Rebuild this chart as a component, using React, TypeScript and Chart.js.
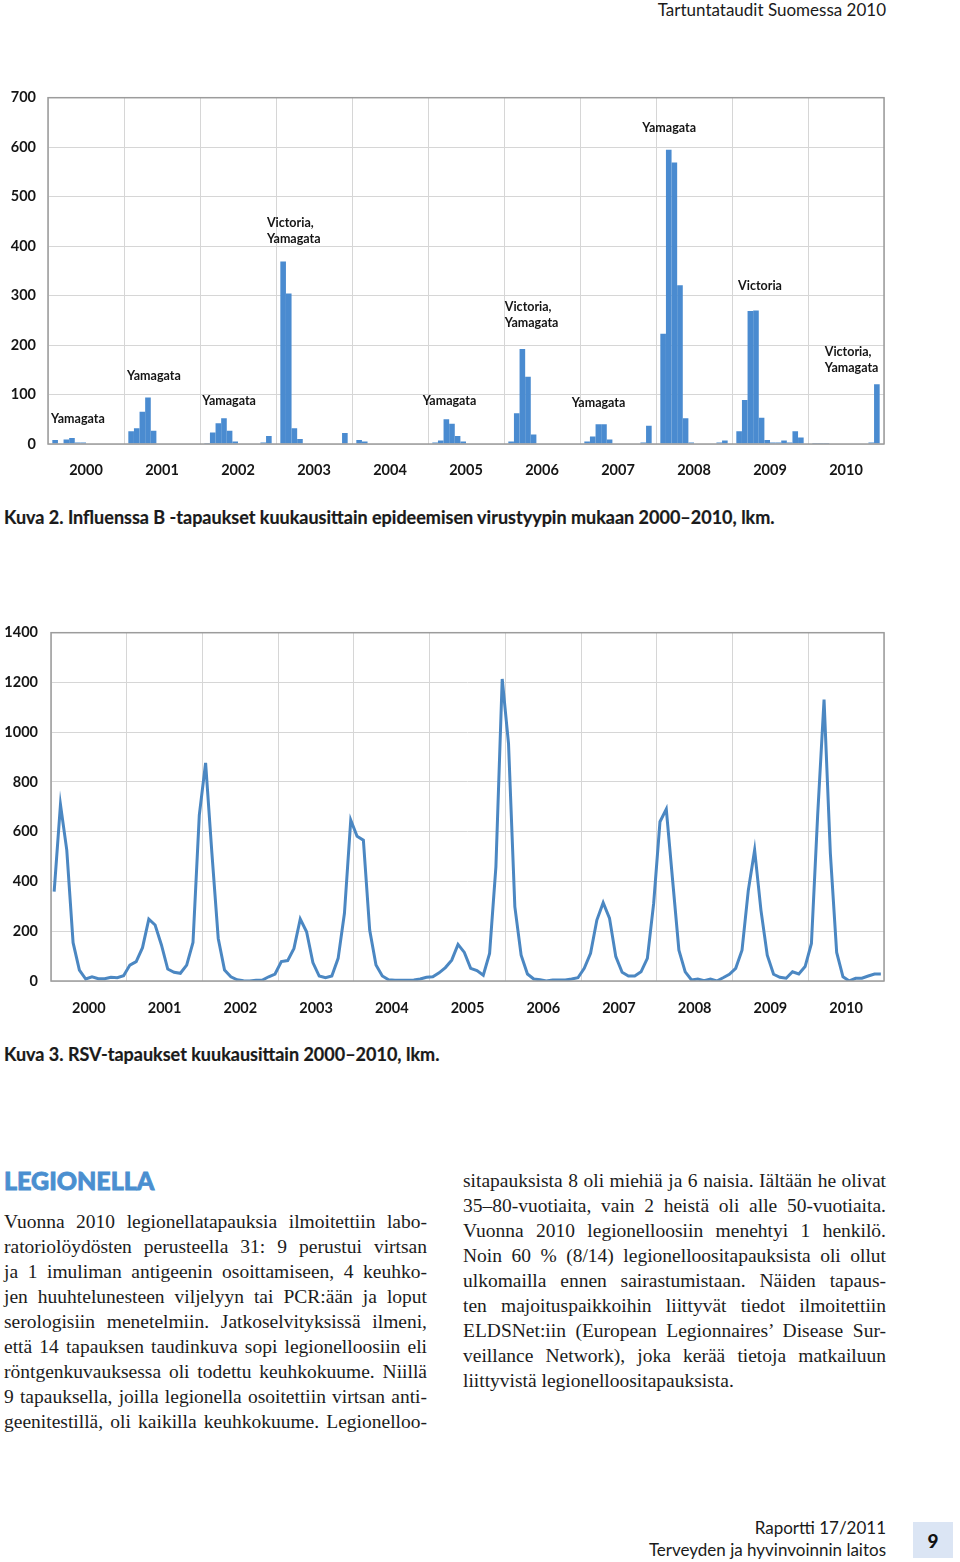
import React, { useEffect, useRef } from "react";
import { Chart, registerables } from "chart.js";

Chart.register(...registerables);

// ---------- DATA ----------
const years = ["2000", "2001", "2002", "2003", "2004", "2005", "2006", "2007", "2008", "2009", "2010"];
const monthNames = ["tammi", "helmi", "maalis", "huhti", "touko", "kesä", "heinä", "elo", "syys", "loka", "marras", "joulu"];

// Influenssa B, monthly cases 2000–2010
const influenzaB2000 = [8, 1, 9, 12, 3, 3, 0, 0, 0, 1, 1, 0];
const influenzaB2001 = [26, 32, 65, 94, 27, 0, 0, 1, 0, 0, 1, 0];
const influenzaB2002 = [2, 23, 42, 52, 27, 5, 0, 0, 0, 0, 3, 16];
const influenzaB2003 = [369, 304, 32, 10, 1, 0, 0, 0, 0, 1, 0, 22];
const influenzaB2004 = [8, 5, 1, 0, 0, 0, 0, 1, 0, 0, 0, 0];
const influenzaB2005 = [3, 7, 50, 41, 16, 5, 0, 0, 0, 0, 1, 0];
const influenzaB2006 = [5, 62, 192, 136, 19, 1, 0, 0, 0, 0, 1, 0];
const influenzaB2007 = [5, 15, 40, 40, 9, 1, 0, 0, 0, 1, 3, 37];
const influenzaB2008 = [223, 595, 569, 321, 52, 3, 0, 0, 0, 0, 3, 7];
const influenzaB2009 = [26, 89, 269, 270, 53, 8, 3, 3, 7, 3, 26, 13];
const influenzaB2010 = [2, 2, 2, 0, 0, 0, 0, 1, 1, 1, 3, 121];
const influenzaB = [
  influenzaB2000, influenzaB2001, influenzaB2002, influenzaB2003, influenzaB2004, influenzaB2005,
  influenzaB2006, influenzaB2007, influenzaB2008, influenzaB2009, influenzaB2010,
];

// RSV, monthly cases 2000–2010
const rsv2000 = [359, 709, 526, 154, 44, 8, 17, 9, 9, 15, 13, 21];
const rsv2001 = [64, 78, 134, 249, 225, 145, 48, 35, 31, 64, 155, 667];
const rsv2002 = [877, 513, 171, 44, 17, 5, 1, 0, 3, 4, 17, 28];
const rsv2003 = [78, 82, 131, 249, 198, 74, 20, 13, 20, 91, 272, 647];
const rsv2004 = [582, 566, 205, 64, 20, 5, 3, 3, 3, 4, 8, 15];
const rsv2005 = [17, 33, 54, 84, 147, 115, 51, 42, 23, 111, 459, 1214];
const rsv2006 = [954, 299, 104, 28, 8, 5, 0, 4, 4, 4, 8, 13];
const rsv2007 = [51, 111, 245, 315, 253, 98, 35, 20, 20, 37, 91, 312];
const rsv2008 = [640, 691, 406, 124, 37, 4, 8, 1, 8, 0, 13, 27];
const rsv2009 = [51, 124, 365, 526, 285, 104, 27, 15, 11, 37, 28, 58];
const rsv2010 = [151, 673, 1131, 513, 115, 17, 0, 11, 11, 20, 28, 28];
const rsv = [rsv2000, rsv2001, rsv2002, rsv2003, rsv2004, rsv2005, rsv2006, rsv2007, rsv2008, rsv2009, rsv2010];

// Epidemic virus-type annotations (anchor: fractional year index, value)
const typeLabels = [
  ["Yamagata"], ["Yamagata"], ["Yamagata"], ["Victoria,", "Yamagata"], ["Yamagata"],
  ["Victoria,", "Yamagata"], ["Yamagata"], ["Yamagata"], ["Victoria"], ["Victoria,", "Yamagata"],
];
const typeLabelYear = [-0.46, 0.54, 1.53, 2.38, 4.43, 5.51, 6.39, 7.32, 8.58, 9.72];
const typeLabelValue = [50, 137, 87, 446, 87, 276, 83, 639, 319, 187];

const influenzaTicksMax = 700;
const influenzaTickStep = 100;
const rsvTicksMax = 1400;
const rsvTickStep = 200;

// ---------- STYLE ----------
const GRID = "#d6d6d6";
const FRAME = "#9c9c9c";
const BAR = "#4a8bd0";
const LINE = "#4b87c2";
const TICK_FONT = { family: "Lato", size: 14.5, weight: "bold" as const };

const framePlugin = {
  id: "frame",
  afterDraw(chart: any) {
    const { ctx, chartArea: a } = chart;
    ctx.save();
    ctx.strokeStyle = FRAME;
    ctx.lineWidth = 1.5;
    ctx.strokeRect(a.left, a.top, a.right - a.left, a.bottom - a.top);
    ctx.restore();
  },
};

const typeLabelPlugin = {
  id: "typeLabels",
  afterDatasetsDraw(chart: any) {
    const { ctx } = chart;
    const xs = chart.scales.x;
    const ys = chart.scales.y;
    ctx.save();
    ctx.fillStyle = "#151515";
    ctx.font = "bold 12.5px Lato";
    ctx.textAlign = "left";
    ctx.textBaseline = "middle";
    typeLabels.forEach((lines, i) => {
      const x = xs.getPixelForValue(typeLabelYear[i]);
      const y = ys.getPixelForValue(typeLabelValue[i]);
      lines.forEach((t, k) => ctx.fillText(t, x, y + k * 16));
    });
    ctx.restore();
  },
};

const plainTick = (v: any) => String(v);

function InfluenzaChart() {
  const ref = useRef<HTMLCanvasElement>(null);
  useEffect(() => {
    const datasets = monthNames.map((m, mi) => ({
      label: m,
      data: influenzaB.map((yr) => yr[mi]),
      backgroundColor: BAR,
      borderWidth: 0,
      categoryPercentage: 0.886,
      barPercentage: 1.0,
    }));
    const chart = new Chart(ref.current!, {
      type: "bar",
      data: { labels: years, datasets },
      options: {
        animation: false,
        responsive: false,
        layout: { padding: { top: 10, right: 6, left: 0, bottom: 0 } },
        plugins: { legend: { display: false }, tooltip: { enabled: false } },
        scales: {
          x: {
            grid: { color: GRID, offset: true, drawTicks: false },
            border: { display: false },
            ticks: { font: TICK_FONT, color: "#151515", padding: 18 },
            afterFit: (s: any) => { s.height = 43; },
          },
          y: {
            min: 0,
            max: influenzaTicksMax,
            ticks: { stepSize: influenzaTickStep, font: TICK_FONT, color: "#151515", padding: 12, callback: plainTick },
            grid: { color: GRID, drawTicks: false },
            border: { display: false },
            afterFit: (s: any) => { s.width = 48; },
          },
        },
      },
      plugins: [typeLabelPlugin, framePlugin],
    });
    return () => chart.destroy();
  }, []);
  return (
    <canvas ref={ref} width={890} height={410}
      style={{ position: "absolute", left: 0, top: 77, width: 890, height: 410 }} />
  );
}

function RsvChart() {
  const ref = useRef<HTMLCanvasElement>(null);
  useEffect(() => {
    const monthLabels: string[] = [];
    years.forEach((y) => monthNames.forEach((m) => monthLabels.push(m + " " + y)));
    const values: number[] = [];
    rsv.forEach((yr) => yr.forEach((v) => values.push(v)));
    const chart = new Chart(ref.current!, {
      type: "line",
      data: {
        labels: monthLabels,
        datasets: [{
          label: "RSV",
          data: values,
          xAxisID: "xm",
          borderColor: LINE,
          borderWidth: 3,
          pointRadius: 0,
          tension: 0,
          fill: false,
        }],
      },
      options: {
        animation: false,
        responsive: false,
        layout: { padding: { top: 12.5, right: 6, left: 0, bottom: 0 } },
        plugins: { legend: { display: false }, tooltip: { enabled: false } },
        scales: {
          x: {
            type: "category",
            labels: years,
            offset: true,
            grid: { color: GRID, offset: true, drawTicks: false },
            border: { display: false },
            ticks: { font: TICK_FONT, color: "#151515", padding: 18.5 },
            afterFit: (s: any) => { s.height = 39; },
          },
          xm: {
            type: "category",
            labels: monthLabels,
            offset: true,
            display: false,
          },
          y: {
            min: 0,
            max: rsvTicksMax,
            ticks: { stepSize: rsvTickStep, font: TICK_FONT, color: "#151515", padding: 13, callback: plainTick },
            grid: { color: GRID, drawTicks: false },
            border: { display: false },
            afterFit: (s: any) => { s.width = 51; },
          },
        },
      },
      plugins: [framePlugin],
    });
    return () => chart.destroy();
  }, []);
  return (
    <canvas ref={ref} width={890} height={409}
      style={{ position: "absolute", left: 0, top: 611, width: 890, height: 409 }} />
  );
}

const leftLines = [
  "Vuonna 2010 legionellatapauksia ilmoitettiin labo-",
  "ratoriolöydösten perusteella 31: 9 perustui virtsan",
  "ja 1 imuliman antigeenin osoittamiseen, 4 keuhko-",
  "jen huuhtelunesteen viljelyyn tai PCR:ään ja loput",
  "serologisiin menetelmiin. Jatkoselvityksissä ilmeni,",
  "että 14 tapauksen taudinkuva sopi legionelloosiin eli",
  "röntgenkuvauksessa oli todettu keuhkokuume. Niillä",
  "9 tapauksella, joilla legionella osoitettiin virtsan anti-",
  "geenitestillä, oli kaikilla keuhkokuume. Legionelloo-",
];
const rightLines = [
  "sitapauksista 8 oli miehiä ja 6 naisia. Iältään he olivat",
  "35–80-vuotiaita, vain 2 heistä oli alle 50-vuotiaita.",
  "Vuonna 2010 legionelloosiin menehtyi 1 henkilö.",
  "Noin 60 % (8/14) legionelloositapauksista oli ollut",
  "ulkomailla ennen sairastumistaan. Näiden tapaus-",
  "ten majoituspaikkoihin liittyvät tiedot ilmoitettiin",
  "ELDSNet:iin (European Legionnaires’ Disease Sur-",
  "veillance Network), joka kerää tietoja matkailuun",
  "liittyvistä legionelloositapauksista.",
];

function TextLines({ lines, left, top, lastLeft }: { lines: string[]; left: number; top: number; lastLeft: boolean }) {
  return (
    <>
      {lines.map((l, i) => {
        const isLast = i === lines.length - 1 && lastLeft;
        return (
          <div key={i} style={{
            position: "absolute", left, top: top + i * 25, width: 423, height: 25,
            lineHeight: "25px", fontFamily: "'Liberation Serif', serif", fontSize: 19.5,
            color: "#1c1c1c", whiteSpace: "nowrap",
            textAlign: isLast ? "left" : "justify",
            textAlignLast: isLast ? "left" : "justify",
          } as React.CSSProperties}>{l}</div>
        );
      })}
    </>
  );
}

export default function App() {
  const sans = "Lato, 'DejaVu Sans Condensed', sans-serif";
  return (
    <div style={{ position: "absolute", left: 0, top: 0, width: 960, height: 1562, background: "#fff" }}>
      <div style={{ position: "absolute", right: 74, top: -1, fontFamily: sans, fontSize: 17, color: "#1a1a1a", whiteSpace: "nowrap" }}>
        Tartuntataudit Suomessa 2010
      </div>
      <InfluenzaChart />
      <div style={{ position: "absolute", left: 4, top: 506, fontFamily: sans, fontWeight: 700, fontSize: 18, color: "#1a1a1a", whiteSpace: "nowrap", WebkitTextStroke: "0.2px #1a1a1a" } as React.CSSProperties}>
        Kuva 2. Influenssa B -tapaukset kuukausittain epideemisen virustyypin mukaan 2000–2010, lkm.
      </div>
      <RsvChart />
      <div style={{ position: "absolute", left: 4, top: 1043, fontFamily: sans, fontWeight: 700, fontSize: 18, color: "#1a1a1a", whiteSpace: "nowrap", WebkitTextStroke: "0.2px #1a1a1a" } as React.CSSProperties}>
        Kuva 3. RSV-tapaukset kuukausittain 2000–2010, lkm.
      </div>
      <div style={{ position: "absolute", left: 4, top: 1165, fontFamily: sans, fontWeight: 900, fontSize: 25, color: "#4a8fd0", whiteSpace: "nowrap", WebkitTextStroke: "0.8px #4a8fd0" } as React.CSSProperties}>
        LEGIONELLA
      </div>
      <TextLines lines={leftLines} left={4} top={1209} lastLeft={false} />
      <TextLines lines={rightLines} left={463} top={1168} lastLeft={true} />
      <div style={{ position: "absolute", right: 74, top: 1517, fontFamily: sans, fontSize: 17, color: "#1a1a1a", textAlign: "right", lineHeight: "22px", whiteSpace: "nowrap" }}>
        <div>Raportti 17/2011</div>
        <div>Terveyden ja hyvinvoinnin laitos</div>
      </div>
      <div style={{ position: "absolute", left: 913, top: 1522, width: 40, height: 36, background: "#dbe5f4", fontFamily: sans, fontWeight: 900, fontSize: 19, color: "#111", display: "flex", alignItems: "center", justifyContent: "center" }}>
        9
      </div>
    </div>
  );
}
